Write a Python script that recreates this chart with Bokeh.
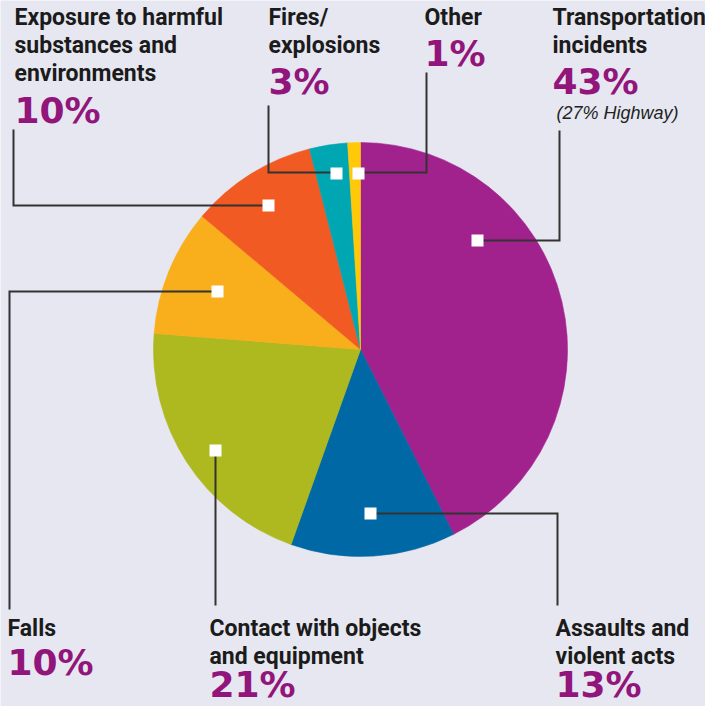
import numpy as np
from bokeh.plotting import figure
from bokeh.models import Range1d, ColumnDataSource
from bokeh.core.properties import value
from bokeh.embed import file_html
from bokeh.resources import INLINE

# ---------------- data ----------------
categories = [
    "Transportation incidents",
    "Assaults and violent acts",
    "Contact with objects and equipment",
    "Falls",
    "Exposure to harmful substances and environments",
    "Fires/explosions",
    "Other",
]
shares = [43, 13, 21, 10, 10, 3, 1]
pct_labels = ["43%", "13%", "21%", "10%", "10%", "3%", "1%"]
label_lines = [
    ["Transportation", "incidents"],
    ["Assaults and", "violent acts"],
    ["Contact with objects", "and equipment"],
    ["Falls"],
    ["Exposure to harmful", "substances and", "environments"],
    ["Fires/", "explosions"],
    ["Other"],
]
note_text = "(27% Highway)"

# ---------------- styles / layout ----------------
slice_colors = ["#A2228D", "#0068A4", "#AEB81F", "#F9AE1C", "#F15A22", "#00A7B3", "#FFC90A"]
BG = "#E6E7F0"
PCT_COLOR = "#91157A"
TXT_COLOR = "#1b1b1b"
LINE_COLOR = "#333333"

PW, PH = 705, 706
W, H = PW, PH
CX, CY, R = 360, 349, 207

LABEL_SIZE, PCT_SIZE, NOTE_SIZE = 23, 36, 18
BASE_FIX = 0.33  # baseline correction (fraction of font size) for svg text

# label anchor (x, first baseline, pct baseline) in reference pixels
label_pos = [
    (552, 25, 93),
    (555, 636, 696),
    (209, 636, 696),
    (7, 636, 674),
    (14, 25, 122),
    (268, 25, 93),
    (424, 25, 65),
]
LINE_STEP = 28.0
note_pos = (556, 118)

# leader polylines and anchor squares (reference pixels)
leaders = [
    [(477, 240), (559, 240), (559, 130)],
    [(370, 513), (557, 513), (557, 605)],
    [(215, 450), (215, 605)],
    [(217, 291), (9, 291), (9, 609)],
    [(268, 205), (13, 205), (13, 129)],
    [(336, 172), (268, 172), (268, 105)],
    [(358, 172), (426, 172), (426, 72)],
]
anchors = [(477, 240), (370, 513), (215, 450), (217, 291), (268, 205), (336, 173), (358, 173)]


def fy(y):
    return H - y


p = figure(width=PW, height=PH, x_range=Range1d(0, W), y_range=Range1d(0, H),
           output_backend="svg", toolbar_location=None, min_border=0)
p.axis.visible = False
p.grid.visible = False
p.outline_line_color = None
p.background_fill_color = BG
p.border_fill_color = BG

# pie
total = float(sum(shares))
cum = np.cumsum([0] + shares)
start = np.pi / 2 - cum[1:] / total * 2 * np.pi
end = np.pi / 2 - cum[:-1] / total * 2 * np.pi
src = ColumnDataSource(dict(start=start, end=end, color=slice_colors, cat=categories))
p.wedge(x=CX, y=fy(CY), radius=R, start_angle="start", end_angle="end",
        fill_color="color", line_color="color", line_width=0.6, source=src)

# leaders
p.multi_line(xs=[[pt[0] for pt in l] for l in leaders],
             ys=[[fy(pt[1]) for pt in l] for l in leaders],
             line_color=LINE_COLOR, line_width=2, line_join="miter")
p.rect(x=[a[0] for a in anchors], y=[fy(a[1]) for a in anchors], width=12, height=12,
       fill_color="white", line_color=None)

# labels
lx, ly, lt = [], [], []
px, py = [], []
for lines, (x0, b0, pb), in zip(label_lines, label_pos):
    for i, t in enumerate(lines):
        lx.append(x0)
        ly.append(fy(b0 + i * LINE_STEP - BASE_FIX * LABEL_SIZE))
        lt.append(t)
    px.append(x0)
    py.append(fy(pb - BASE_FIX * PCT_SIZE))

p.text(x=lx, y=ly, text=lt, text_font=value("Roboto"), text_font_style="bold",
       text_font_size=f"{LABEL_SIZE}px", text_color=TXT_COLOR,
       text_align="left", text_baseline="alphabetic")
p.text(x=px, y=py, text=pct_labels, text_font=value("DejaVu Sans"), text_font_style="bold",
       text_font_size=f"{PCT_SIZE}px", text_color=PCT_COLOR,
       text_align="left", text_baseline="alphabetic")
p.text(x=[note_pos[0]], y=[fy(note_pos[1] - BASE_FIX * NOTE_SIZE)], text=[note_text],
       text_font=value("Liberation Sans"), text_font_style="italic",
       text_font_size=f"{NOTE_SIZE}px", text_color="#222222",
       text_align="left", text_baseline="alphabetic")

open("out.html", "w").write(file_html(p, INLINE))
